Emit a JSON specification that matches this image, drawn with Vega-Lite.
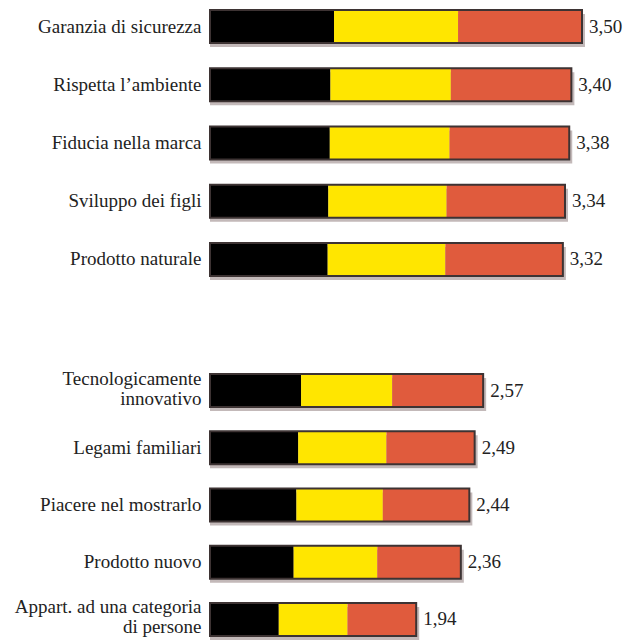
{
  "$schema": "https://vega.github.io/schema/vega-lite/v6.json",
  "padding": 0,
  "background": "white",
  "spacing": 78,
  "config": {"view": {"stroke": null}},
  "datasets": {
    "top": [
      {"item": "Garanzia di sicurezza", "part": "a", "value": 1.167},
      {"item": "Garanzia di sicurezza", "part": "b", "value": 1.167},
      {"item": "Garanzia di sicurezza", "part": "c", "value": 1.166},
      {"item": "Rispetta l’ambiente", "part": "a", "value": 1.133},
      {"item": "Rispetta l’ambiente", "part": "b", "value": 1.133},
      {"item": "Rispetta l’ambiente", "part": "c", "value": 1.134},
      {"item": "Fiducia nella marca", "part": "a", "value": 1.127},
      {"item": "Fiducia nella marca", "part": "b", "value": 1.127},
      {"item": "Fiducia nella marca", "part": "c", "value": 1.126},
      {"item": "Sviluppo dei figli", "part": "a", "value": 1.113},
      {"item": "Sviluppo dei figli", "part": "b", "value": 1.113},
      {"item": "Sviluppo dei figli", "part": "c", "value": 1.114},
      {"item": "Prodotto naturale", "part": "a", "value": 1.107},
      {"item": "Prodotto naturale", "part": "b", "value": 1.107},
      {"item": "Prodotto naturale", "part": "c", "value": 1.106}
    ],
    "bottom": [
      {"item": "Tecnologicamente\ninnovativo", "part": "a", "value": 0.857},
      {"item": "Tecnologicamente\ninnovativo", "part": "b", "value": 0.857},
      {"item": "Tecnologicamente\ninnovativo", "part": "c", "value": 0.856},
      {"item": "Legami familiari", "part": "a", "value": 0.83},
      {"item": "Legami familiari", "part": "b", "value": 0.83},
      {"item": "Legami familiari", "part": "c", "value": 0.83},
      {"item": "Piacere nel mostrarlo", "part": "a", "value": 0.813},
      {"item": "Piacere nel mostrarlo", "part": "b", "value": 0.813},
      {"item": "Piacere nel mostrarlo", "part": "c", "value": 0.814},
      {"item": "Prodotto nuovo", "part": "a", "value": 0.787},
      {"item": "Prodotto nuovo", "part": "b", "value": 0.787},
      {"item": "Prodotto nuovo", "part": "c", "value": 0.786},
      {"item": "Appart. ad una categoria\ndi persone", "part": "a", "value": 0.647},
      {"item": "Appart. ad una categoria\ndi persone", "part": "b", "value": 0.647},
      {"item": "Appart. ad una categoria\ndi persone", "part": "c", "value": 0.646}
    ]
  },
  "vconcat": [
    {
      "data": {"name": "top"},
      "width": 372,
      "height": 286,
      "encoding": {
        "y": {
          "field": "item", "type": "nominal", "sort": null,
          "scale": {"paddingInner": 0.433, "paddingOuter": 0.172},
          "axis": {"title": null, "domain": false, "ticks": false, "labelFont": "Liberation Serif", "labelFontSize": 19, "labelColor": "#222222", "labelPadding": 9, "minExtent": 210, "maxExtent": 210, "labelLimit": 0, "labelLineHeight": 20, "labelExpr": "split(datum.value, '\\n')",
                   "labelOffset": {"condition": {"test": "indexof(datum.value, '\\n') >= 0", "value": -12}, "value": 0}}
        }
      },
      "layer": [
        {
          "mark": {"type": "bar", "color": "#7a6464", "opacity": 0.45, "xOffset": 3, "x2Offset": 3, "yOffset": 4},
          "encoding": {"x": {"aggregate": "sum", "field": "value", "type": "quantitative", "scale": {"domain": [0, 3.5], "nice": false, "zero": true}, "axis": null}}
        },
        {
          "mark": {"type": "bar"},
          "encoding": {
            "x": {"field": "value", "type": "quantitative", "stack": "zero", "scale": {"domain": [0, 3.5], "nice": false}, "axis": null},
            "color": {"field": "part", "type": "nominal", "scale": {"domain": ["a", "b", "c"], "range": ["#000000", "#FFE600", "#E05B3D"]}, "legend": null},
            "order": {"field": "part"}
          }
        },
        {
          "mark": {"type": "bar", "filled": false, "stroke": "#3d3333", "strokeWidth": 2},
          "encoding": {"x": {"aggregate": "sum", "field": "value", "type": "quantitative", "scale": {"domain": [0, 3.5], "nice": false}, "axis": null}}
        },
        {
          "transform": [
            {"aggregate": [{"op": "sum", "field": "value", "as": "total"}], "groupby": ["item"]},
            {"calculate": "replace(format(datum.total, '.2f'), '.', ',')", "as": "label"}
          ],
          "mark": {"type": "text", "align": "left", "baseline": "middle", "dx": 7, "font": "Liberation Serif", "fontSize": 19, "color": "#222222"},
          "encoding": {
            "x": {"field": "total", "type": "quantitative", "scale": {"domain": [0, 3.5], "nice": false}, "axis": null},
            "text": {"field": "label"}
          }
        }
      ]
    },
    {
      "data": {"name": "bottom"},
      "width": 372,
      "height": 282,
      "encoding": {
        "y": {
          "field": "item", "type": "nominal", "sort": null,
          "scale": {"paddingInner": 0.424, "paddingOuter": 0.175},
          "axis": {"title": null, "domain": false, "ticks": false, "labelFont": "Liberation Serif", "labelFontSize": 19, "labelColor": "#222222", "labelPadding": 9, "minExtent": 210, "maxExtent": 210, "labelLimit": 0, "labelLineHeight": 20, "labelExpr": "split(datum.value, '\\n')",
                   "labelOffset": {"condition": {"test": "indexof(datum.value, '\\n') >= 0", "value": -12}, "value": 0}}
        }
      },
      "layer": [
        {
          "mark": {"type": "bar", "color": "#7a6464", "opacity": 0.45, "xOffset": 3, "x2Offset": 3, "yOffset": 4},
          "encoding": {"x": {"aggregate": "sum", "field": "value", "type": "quantitative", "scale": {"domain": [0, 3.5], "nice": false, "zero": true}, "axis": null}}
        },
        {
          "mark": {"type": "bar"},
          "encoding": {
            "x": {"field": "value", "type": "quantitative", "stack": "zero", "scale": {"domain": [0, 3.5], "nice": false}, "axis": null},
            "color": {"field": "part", "type": "nominal", "scale": {"domain": ["a", "b", "c"], "range": ["#000000", "#FFE600", "#E05B3D"]}, "legend": null},
            "order": {"field": "part"}
          }
        },
        {
          "mark": {"type": "bar", "filled": false, "stroke": "#3d3333", "strokeWidth": 2},
          "encoding": {"x": {"aggregate": "sum", "field": "value", "type": "quantitative", "scale": {"domain": [0, 3.5], "nice": false}, "axis": null}}
        },
        {
          "transform": [
            {"aggregate": [{"op": "sum", "field": "value", "as": "total"}], "groupby": ["item"]},
            {"calculate": "replace(format(datum.total, '.2f'), '.', ',')", "as": "label"}
          ],
          "mark": {"type": "text", "align": "left", "baseline": "middle", "dx": 7, "font": "Liberation Serif", "fontSize": 19, "color": "#222222"},
          "encoding": {
            "x": {"field": "total", "type": "quantitative", "scale": {"domain": [0, 3.5], "nice": false}, "axis": null},
            "text": {"field": "label"}
          }
        }
      ]
    }
  ]
}
